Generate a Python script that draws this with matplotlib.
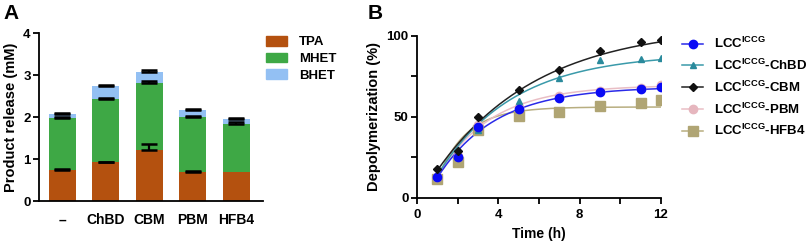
import numpy as np
import matplotlib
matplotlib.use("Agg")
import matplotlib.pyplot as plt
from matplotlib.patches import Patch
from matplotlib.lines import Line2D

plt.rcParams['font.family'] = ['Liberation Sans', 'DejaVu Sans']
plt.rcParams['font.weight'] = 'bold'
plt.rcParams['mathtext.fontset'] = 'custom'
plt.rcParams['mathtext.rm'] = 'Liberation Sans:bold'
plt.rcParams['mathtext.bf'] = 'Liberation Sans:bold'
plt.rcParams['mathtext.it'] = 'Liberation Sans:bold'
plt.rcParams['mathtext.default'] = 'bf'

# ---------------- Panel A data ----------------
categories = ['–', 'ChBD', 'CBM', 'PBM', 'HFB4']
tpa = [0.73, 0.92, 1.22, 0.70, 0.69]
mhet = [1.24, 1.51, 1.59, 1.29, 1.15]
bhet = [0.11, 0.32, 0.26, 0.165, 0.12]
tpa_err = [0.025, 0.02, 0.13, 0.02, 0.0]
mhet_err = [0.03, 0.02, 0.05, 0.04, 0.04]
bhet_err = [0.015, 0.01, 0.04, 0.035, 0.015]

# ---------------- Panel B data ----------------
time_h = [1, 2, 3, 5, 7, 9, 11, 12]
lcc = [12.9, 25.0, 44.0, 54.7, 61.8, 65.2, 67.3, 68.3]
lcc_chbd = [14.0, 27.0, 42.0, 59.4, 74.0, 85.0, 85.7, 86.0]
lcc_cbm = [18.0, 28.7, 49.8, 66.6, 79.0, 90.3, 96.3, 97.5]
lcc_pbm = [13.0, 26.0, 45.0, 56.0, 63.0, 66.0, 67.5, 69.3]
lcc_hfb4 = [11.7, 21.9, 42.0, 50.6, 53.0, 56.4, 58.7, 60.1]
series_labels = ['LCC$^{ICCG}$', 'LCC$^{ICCG}$-ChBD', 'LCC$^{ICCG}$-CBM',
                 'LCC$^{ICCG}$-PBM', 'LCC$^{ICCG}$-HFB4']
# one-phase association fit parameters (start value at t=1, plateau, rate)
fit_start = [12.5, 14.0, 17.0, 13.0, 11.5]
fit_plateau = [68.5, 89.0, 106.0, 69.5, 56.0]
fit_rate = [0.35, 0.27, 0.20, 0.38, 0.70]

c_tpa = '#B4510F'
c_mhet = '#3EA845'
c_bhet = '#93C0F3'

fig = plt.figure(figsize=(8.09, 2.42), dpi=100)

# ---------------- Panel A ----------------
axA = fig.add_axes([39/809, 1-201/242, (263-39)/809, (201-33)/242])
x = np.arange(len(categories))
w = 0.62
tpa_a = np.array(tpa); mhet_a = np.array(mhet); bhet_a = np.array(bhet)
axA.bar(x, tpa_a, w, color=c_tpa, zorder=2)
axA.bar(x, mhet_a, w, bottom=tpa_a, color=c_mhet, zorder=2)
axA.bar(x, bhet_a, w, bottom=tpa_a+mhet_a, color=c_bhet, zorder=2)
ekw = dict(fmt='none', ecolor='black', elinewidth=1.6, capsize=5.5, capthick=1.8, zorder=3)
for tops, errs in [(tpa_a, tpa_err), (tpa_a+mhet_a, mhet_err), (tpa_a+mhet_a+bhet_a, bhet_err)]:
    errs = np.array(errs)
    m = errs > 0
    axA.errorbar(x[m], tops[m], yerr=[np.zeros(m.sum()), errs[m]], **ekw)
axA.set_xlim(-0.54, 4.62)
axA.set_ylim(0, 4)
axA.set_yticks([0, 1, 2, 3, 4])
axA.set_xticks(x)
axA.set_xticklabels(categories, fontsize=10, fontweight='bold')
axA.tick_params(axis='x', length=0, pad=9)
axA.tick_params(axis='y', length=4, width=1.3, labelsize=9.5, pad=2)
axA.set_ylabel('Product release (mM)', fontsize=10.5, fontweight='bold', labelpad=4)
for s in ['top', 'right']:
    axA.spines[s].set_visible(False)
for s in ['left', 'bottom']:
    axA.spines[s].set_linewidth(1.3)
legA = [Patch(color=c_tpa, label='TPA'), Patch(color=c_mhet, label='MHET'),
        Patch(color=c_bhet, label='BHET')]
fig.legend(handles=legA, loc='upper left', bbox_to_anchor=(266/809, 1-36/242),
           frameon=False, fontsize=9.5, handlelength=1.6, handleheight=0.75,
           handletextpad=0.9, labelspacing=0.32, borderaxespad=0, borderpad=0)
fig.text(3/809, 1-4/242, 'A', fontsize=15, fontweight='bold', va='top', ha='left')

# ---------------- Panel B ----------------
axB = fig.add_axes([417/809, 1-198/242, (661-417)/809, (198-35.5)/242])
data_b = [lcc, lcc_chbd, lcc_cbm, lcc_pbm, lcc_hfb4]
mcolors = ['#0A0AF5', '#2A8A9C', '#111111', '#E6B6BE', '#B0A574']
lcolors = ['#2A2AE8', '#3A9AAA', '#222222', '#E9BEC5', '#B8AE80']
markers = ['o', '^', 'D', 'o', 's']
msizes = [6, 5, 3.8, 6, 6.5]
order = [4, 3, 1, 0, 2]
tt = np.linspace(1, 12, 200)
for rank, i in enumerate(order):
    fit = fit_plateau[i] - (fit_plateau[i]-fit_start[i])*np.exp(-fit_rate[i]*(tt-1))
    axB.plot(tt, fit, color=lcolors[i], lw=1.1, zorder=2+rank*0.1)
    axB.plot(time_h, data_b[i], linestyle='none', marker=markers[i], ms=msizes[i],
             color=mcolors[i], mec=mcolors[i], zorder=3+rank*0.1)
axB.set_xlim(0, 12)
axB.set_ylim(0, 100)
axB.set_xticks([0, 4, 8, 12])
axB.set_xticks([2, 6, 10], minor=True)
axB.set_yticks([0, 50, 100])
axB.set_yticks([25, 75], minor=True)
axB.tick_params(which='both', length=4, width=1.3, labelsize=9.5, pad=2)
axB.tick_params(axis='x', which='both', pad=4)
axB.set_xlabel('Time (h)', fontsize=10, fontweight='bold', labelpad=4)
axB.set_ylabel('Depolymerization (%)', fontsize=10.5, fontweight='bold', labelpad=4)
for s in ['top', 'right']:
    axB.spines[s].set_visible(False)
for s in ['left', 'bottom']:
    axB.spines[s].set_linewidth(1.3)
legB = [Line2D([0], [0], color=lcolors[i], lw=1.1, marker=markers[i], ms=msizes[i],
               mfc=mcolors[i], mec=mcolors[i], label=series_labels[i]) for i in range(5)]
fig.legend(handles=legB, loc='upper left', bbox_to_anchor=(682/809, 1-36/242),
           frameon=False, fontsize=9.5, handlelength=1.6, handletextpad=0.8,
           labelspacing=0.5, borderaxespad=0, borderpad=0)
fig.text(368/809, 1-4/242, 'B', fontsize=15, fontweight='bold', va='top', ha='left')

fig.savefig('out.png', dpi=100)
